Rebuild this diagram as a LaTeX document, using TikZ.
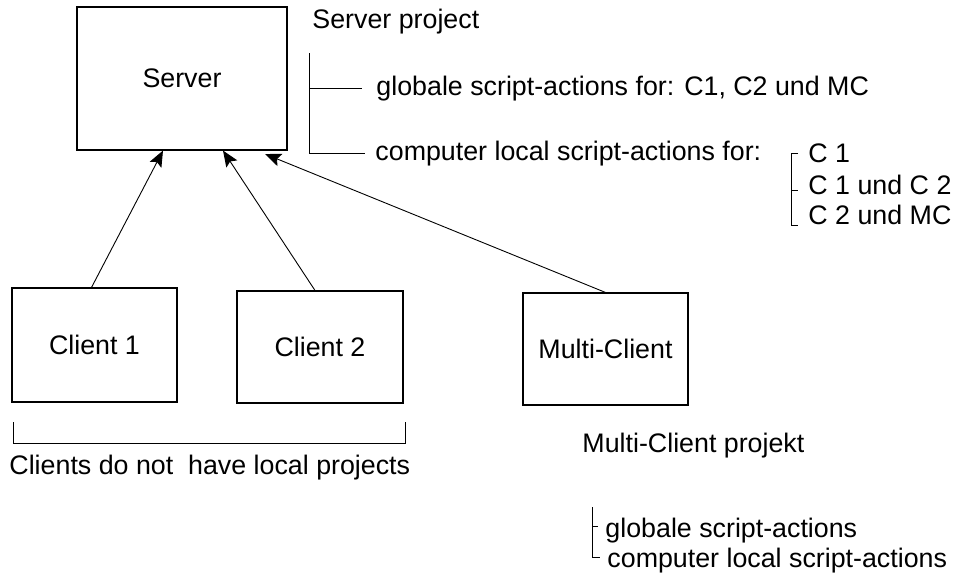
\documentclass[tikz,border=0pt]{standalone}
\usepackage{fontspec}
\setmainfont{Liberation Sans}
\usetikzlibrary{arrows.meta}

\tikzset{
  caja/.style={draw, inner sep=0pt, line width=1.1pt},
  flecha/.style={-{Stealth[length=16pt, width=13pt, inset=3pt]}},
  texto/.style={anchor=base west, inner sep=0pt}
}

\begin{document}
\begin{tikzpicture}[x=1pt, y=-1pt, line width=0.9pt, font=\fontsize{26.8pt}{31pt}\selectfont]
            \useasboundingbox (0,0) rectangle (965,574);

            % Cajas
            \node[caja, minimum width=210pt, minimum height=143pt] (server) at (182,78.5) {Server};
            \node[caja, minimum width=165pt, minimum height=114pt] (client1) at (94.5,345) {Client 1};
            \node[caja, minimum width=166pt, minimum height=112pt] (client2) at (320,347) {Client 2};
            \node[caja, minimum width=165pt, minimum height=112pt] (multi) at (605.5,349) {Multi-Client};

            % Flechas
            \coordinate (mctip) at (265,154);
            \draw[flecha] ([xshift=-3pt]client1.north) -- ([xshift=-19pt]server.south);
            \draw[flecha] ([xshift=-5pt]client2.north) -- ([xshift=41pt]server.south);
            \draw[flecha] (multi.north) -- (mctip);

            % Server project
            \node[texto] (sproj) at (312,28) {Server project};
            \node[texto] (sglob) at (376,95) {globale script-actions for: C1, C2 und MC};
            \node[texto] (sloc) at (375,160) {computer local script-actions for:};
            \draw (309,53) -- (309,153) -- (365,153);
            \draw (309,88) -- (362,88);

            % C 1 / C 2 / MC
            \node[texto] (c1) at (808,162) {C 1};
            \node[texto] (c12) at (808,194) {C 1 und C 2};
            \node[texto] (c2mc) at (808,224) {C 2 und MC};
            \draw (798,153) -- (791,153) -- (791,225) -- (798,225);
            \draw (791,190) -- (798,190);

            % Clients
            \draw (13,422) -- (13,443) -- (405,443) -- (405,422);
            \node[texto] (clnote) at (9,474) {Clients do not\ \ have local projects};

            % Multi-Client projekt
            \node[texto] (mproj) at (582,452) {Multi-Client projekt};
            \node[texto] (mglob) at (605,537) {globale script-actions};
            \node[texto] (mloc) at (607,567) {computer local script-actions};
            \draw (592,507) -- (592,557) -- (600,557);
            \draw (592,526) -- (598,526);
        \end{tikzpicture}
\end{document}
